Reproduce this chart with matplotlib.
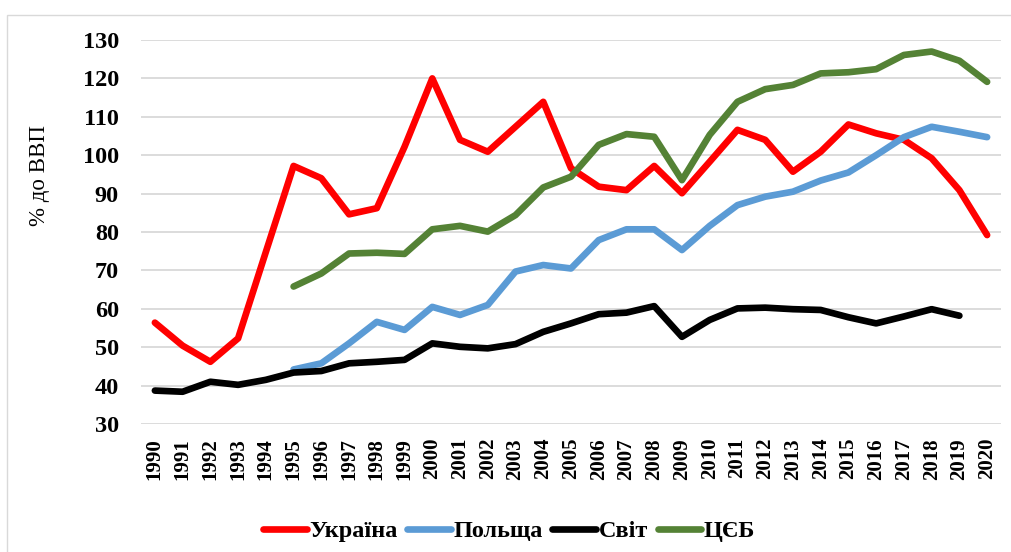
import matplotlib
matplotlib.use("Agg")
import matplotlib.pyplot as plt
from matplotlib.patches import Rectangle

years = list(range(1990, 2021))

ukraine = [56.4, 50.4, 46.2, 52.3, 74.8, 97.2, 94.0, 84.6, 86.2, 102.2, 120.0,
           104.0, 100.9, 107.4, 113.9, 96.6, 91.8, 90.9, 97.2, 90.1, 98.3,
           106.6, 104.0, 95.7, 100.9, 108.0, 105.7, 104.0, 99.2, 90.9, 79.2]

poland_years = list(range(1995, 2021))
poland = [44.2, 45.8, 51.0, 56.6, 54.5, 60.5, 58.4, 61.0, 69.7, 71.4, 70.5,
          77.9, 80.7, 80.7, 75.3, 81.6, 87.0, 89.2, 90.5, 93.4, 95.5, 100.0,
          104.7, 107.4, 106.1, 104.7]

world_years = list(range(1990, 2020))
world = [38.7, 38.4, 41.0, 40.2, 41.5, 43.4, 43.8, 45.8, 46.2, 46.7, 51.0,
         50.1, 49.7, 50.8, 54.0, 56.2, 58.6, 59.0, 60.7, 52.7, 57.1, 60.1,
         60.3, 59.9, 59.7, 57.8, 56.2, 58.0, 59.9, 58.2]

cee_years = list(range(1995, 2021))
cee = [65.8, 69.2, 74.4, 74.6, 74.3, 80.7, 81.6, 80.1, 84.4, 91.6, 94.4,
       102.7, 105.5, 104.8, 93.5, 105.3, 113.9, 117.2, 118.3, 121.3, 121.6,
       122.4, 126.1, 127.0, 124.6, 119.1]

series_names = ["Україна", "Польща", "Світ", "ЦЄБ"]
colors = ["#FF0000", "#5B9BD5", "#000000", "#548235"]
yticks = list(range(30, 131, 10))

plt.rcParams['font.family'] = ['Liberation Serif', 'DejaVu Serif']

fig = plt.figure(figsize=(10.11, 5.52), dpi=100)
ax = fig.add_axes([141/1011, 1 - 424/552, (1001 - 141)/1011, (424 - 40)/552])

lw = 4.8
ax.plot(years, ukraine, color=colors[0], lw=lw, label=series_names[0], solid_capstyle='round', solid_joinstyle='round')
ax.plot(poland_years, poland, color=colors[1], lw=lw, label=series_names[1], solid_capstyle='round', solid_joinstyle='round')
ax.plot(world_years, world, color=colors[2], lw=lw, label=series_names[2], solid_capstyle='round', solid_joinstyle='round')
ax.plot(cee_years, cee, color=colors[3], lw=lw, label=series_names[3], solid_capstyle='round', solid_joinstyle='round')

ax.set_xlim(1989.5, 2020.5)
ax.set_ylim(30, 130)
ax.set_yticks(yticks)
ax.set_xticks(years)
ax.set_xticklabels([str(y) for y in years], rotation=90, fontsize=15, fontweight='bold')
ax.set_yticklabels([str(v) for v in yticks], fontsize=17.5, fontweight='bold')
ax.tick_params(axis='both', length=0)
ax.tick_params(axis='y', pad=16)
ax.tick_params(axis='x', pad=10)
for lab in ax.get_xticklabels():
    lab.set_verticalalignment('top')

ax.grid(axis='y', color='#D9D9D9', lw=1.3)
ax.set_axisbelow(True)
for s in ax.spines.values():
    s.set_visible(False)

fig.text(40/1011, 1 - 176/552, "% до ВВП", rotation=90, fontsize=16.5,
         ha='center', va='center')

leg = fig.legend(loc='center', bbox_to_anchor=(509/1011, 1 - 531/552), ncol=4,
                 frameon=False, prop={'size': 17.5, 'weight': 'bold'},
                 handlelength=1.8, handletextpad=0.1, columnspacing=0.4)

fig.patches.append(Rectangle((7/1011, -0.05), 1.2, 1 - 15/552 + 0.05,
                             transform=fig.transFigure, fill=False,
                             edgecolor='#D9D9D9', lw=1.0))

fig.savefig("out.png", dpi=100)
